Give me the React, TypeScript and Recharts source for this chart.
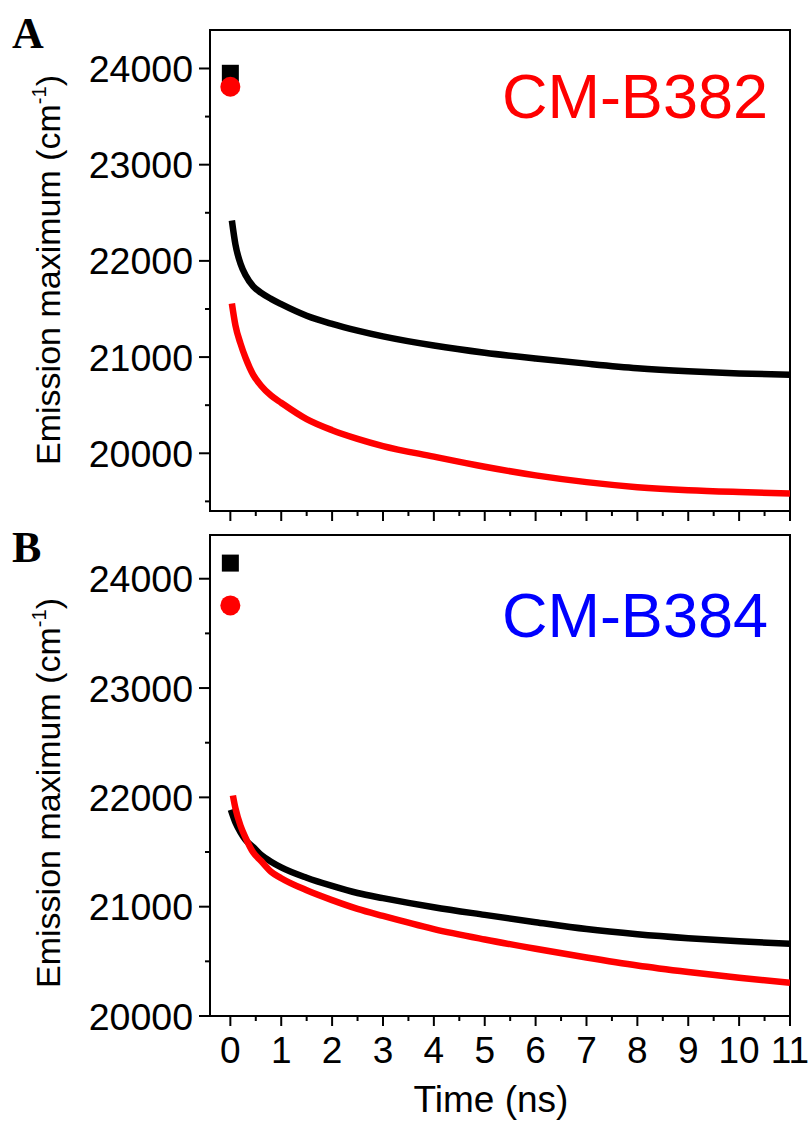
import React from 'react';
import { ComposedChart, Line, Scatter, XAxis, YAxis, ReferenceArea } from 'recharts';

const FONT = '"Liberation Sans", Arial, Helvetica, sans-serif';

// ---- data ----
const timesA = [0.03, 0.1, 0.2, 0.3, 0.45, 0.6, 0.8, 1, 1.5, 2, 2.5, 3, 4, 5, 6, 7, 8, 9, 10, 11];
const blackA = [22420, 22170, 21970, 21850, 21735, 21670, 21605, 21550, 21430, 21345, 21275, 21215, 21120, 21045, 20985, 20932, 20885, 20853, 20830, 20816];
const redA = [21558, 21330, 21140, 20990, 20815, 20705, 20600, 20525, 20355, 20240, 20150, 20075, 19965, 19860, 19770, 19700, 19648, 19616, 19597, 19583];

const timesBlackB = [0.01, 0.1, 0.2, 0.3, 0.45, 0.6, 0.8, 1, 1.5, 2, 2.5, 3, 4, 5, 6, 7, 8, 9, 10, 11];
const blackB = [21887, 21770, 21680, 21610, 21545, 21475, 21412, 21360, 21265, 21190, 21125, 21078, 20995, 20925, 20858, 20795, 20748, 20712, 20683, 20661];
const timesRedB = [0.05, 0.1, 0.2, 0.3, 0.45, 0.6, 0.8, 1, 1.5, 2, 2.5, 3, 4, 5, 6, 7, 8, 9, 10, 11];
const redB = [22017, 21900, 21740, 21630, 21495, 21420, 21320, 21260, 21150, 21060, 20980, 20915, 20795, 20700, 20615, 20535, 20462, 20402, 20349, 20304];

const squareA = [{ t: 0, v: 23950 }];
const circleA = [{ t: 0, v: 23810 }];
const squareB = [{ t: 0, v: 24143 }];
const circleB = [{ t: 0, v: 23756 }];

const xTicks = [0, 0.5, 1, 1.5, 2, 2.5, 3, 3.5, 4, 4.5, 5, 5.5, 6, 6.5, 7, 7.5, 8, 8.5, 9, 9.5, 10, 10.5, 11];
const yTicksA = [19500, 20000, 20500, 21000, 21500, 22000, 22500, 23000, 23500, 24000];
const yTicksB = [20000, 20500, 21000, 21500, 22000, 22500, 23000, 23500, 24000];

const xDomain: [number, number] = [-0.4, 11];
const yDomainA: [number, number] = [19400, 24400];
const yDomainB: [number, number] = [20000, 24400];

const zip = (t: number[], v: number[]) => t.map((x, i) => ({ t: x, v: v[i] }));

// ---- ticks ----
const XTick = (props: any) => {
  const { x, y, payload, showLabel } = props;
  const major = Number.isInteger(payload.value);
  return (
    <g>
      <line x1={x} x2={x} y1={y} y2={y + (major ? 10 : 5)} stroke="#000" strokeWidth={2} />
      {showLabel && major && (
        <text x={x} y={y + 47} textAnchor="middle" fontSize={37} fontFamily={FONT} fill="#000">
          {payload.value}
        </text>
      )}
    </g>
  );
};

const YTick = (props: any) => {
  const { x, y, payload } = props;
  const major = payload.value % 1000 === 0;
  return (
    <g>
      <line x1={x - (major ? 11 : 5)} x2={x} y1={y} y2={y} stroke="#000" strokeWidth={2} />
      {major && (
        <text x={x - 17} y={y} dy="0.36em" textAnchor="end" fontSize={37.5} fontFamily={FONT} fill="#000">
          {payload.value}
        </text>
      )}
    </g>
  );
};

const Square = (props: any) => {
  const { cx, cy } = props;
  return <rect x={cx - 8.5} y={cy - 8.5} width={17} height={17} fill="#000" />;
};
const Dot = (props: any) => {
  const { cx, cy } = props;
  return <circle cx={cx} cy={cy} r={10} fill="#FF0000" />;
};

type PanelProps = {
  height: number;
  top: number;
  plotTop: number;
  yDomain: [number, number];
  yTicks: number[];
  black: { t: number; v: number }[];
  red: { t: number; v: number }[];
  square: { t: number; v: number }[];
  circle: { t: number; v: number }[];
  showXLabels: boolean;
};

const Panel = (p: PanelProps) => (
  <div style={{ position: 'absolute', left: 0, top: p.top, width: 809, height: p.height }}>
    <ComposedChart
      width={809}
      height={p.height}
      margin={{ top: p.plotTop, right: 19, bottom: 0, left: 0 }}
    >
      <XAxis
        type="number"
        dataKey="t"
        domain={xDomain}
        allowDataOverflow
        ticks={xTicks}
        interval={0}
        height={p.height - p.plotTop - 481}
        tickSize={0}
        tickMargin={0}
        tickLine={false}
        axisLine={{ stroke: '#000', strokeWidth: 2 }}
        tick={(tp: any) => <XTick {...tp} showLabel={p.showXLabels} />}
      />
      <YAxis
        type="number"
        dataKey="v"
        domain={p.yDomain}
        allowDataOverflow
        ticks={p.yTicks}
        interval={0}
        width={210}
        tickSize={0}
        tickMargin={0}
        tickLine={false}
        axisLine={{ stroke: '#000', strokeWidth: 2 }}
        tick={(tp: any) => <YTick {...tp} />}
      />
      <ReferenceArea
        x1={xDomain[0]}
        x2={xDomain[1]}
        y1={p.yDomain[0]}
        y2={p.yDomain[1]}
        fill="none"
        stroke="#000"
        strokeWidth={2}
        ifOverflow="visible"
      />
      <Line data={p.black} dataKey="v" type="monotone" stroke="#000000" strokeWidth={6.5} dot={false} isAnimationActive={false} />
      <Line data={p.red} dataKey="v" type="monotone" stroke="#FF0000" strokeWidth={6.5} dot={false} isAnimationActive={false} />
      <Scatter data={p.square} dataKey="v" shape={Square} isAnimationActive={false} />
      <Scatter data={p.circle} dataKey="v" shape={Dot} isAnimationActive={false} />
    </ComposedChart>
  </div>
);

const YTitle = ({ cx, cy }: { cx: number; cy: number }) => (
  <text
    x={cx}
    y={cy}
    transform={`rotate(-90 ${cx} ${cy})`}
    textAnchor="middle"
    fontSize={34}
    fontFamily={FONT}
    fill="#000"
  >
    Emission maximum (cm
    <tspan fontSize={20} dy={-14}>-1</tspan>
    <tspan dy={14}>)</tspan>
  </text>
);

export default function App() {
  return (
    <div style={{ position: 'absolute', left: 0, top: 0, width: 809, height: 1122, background: '#fff' }}>
      <Panel
        top={0}
        height={560}
        plotTop={30}
        yDomain={yDomainA}
        yTicks={yTicksA}
        black={zip(timesA, blackA)}
        red={zip(timesA, redA)}
        square={squareA}
        circle={circleA}
        showXLabels={false}
      />
      <Panel
        top={520}
        height={602}
        plotTop={15}
        yDomain={yDomainB}
        yTicks={yTicksB}
        black={zip(timesBlackB, blackB)}
        red={zip(timesRedB, redB)}
        square={squareB}
        circle={circleB}
        showXLabels={true}
      />
      <svg
        width={809}
        height={1122}
        style={{ position: 'absolute', left: 0, top: 0, pointerEvents: 'none' }}
      >
        <text x={12} y={48} fontSize={44} fontWeight="bold" fontFamily='"Liberation Serif", "Times New Roman", serif' fill="#000">A</text>
        <text x={12} y={562} fontSize={44} fontWeight="bold" fontFamily='"Liberation Serif", "Times New Roman", serif' fill="#000">B</text>
        <text x={768} y={118} textAnchor="end" fontSize={63} fontFamily={FONT} fill="#FF0000">CM-B382</text>
        <text x={768} y={637} textAnchor="end" fontSize={63} fontFamily={FONT} fill="#0000FF">CM-B384</text>
        <YTitle cx={60} cy={270} />
        <YTitle cx={60} cy={793} />
        <text x={491} y={1112} textAnchor="middle" fontSize={37} fontFamily={FONT} fill="#000">Time (ns)</text>
      </svg>
    </div>
  );
}
